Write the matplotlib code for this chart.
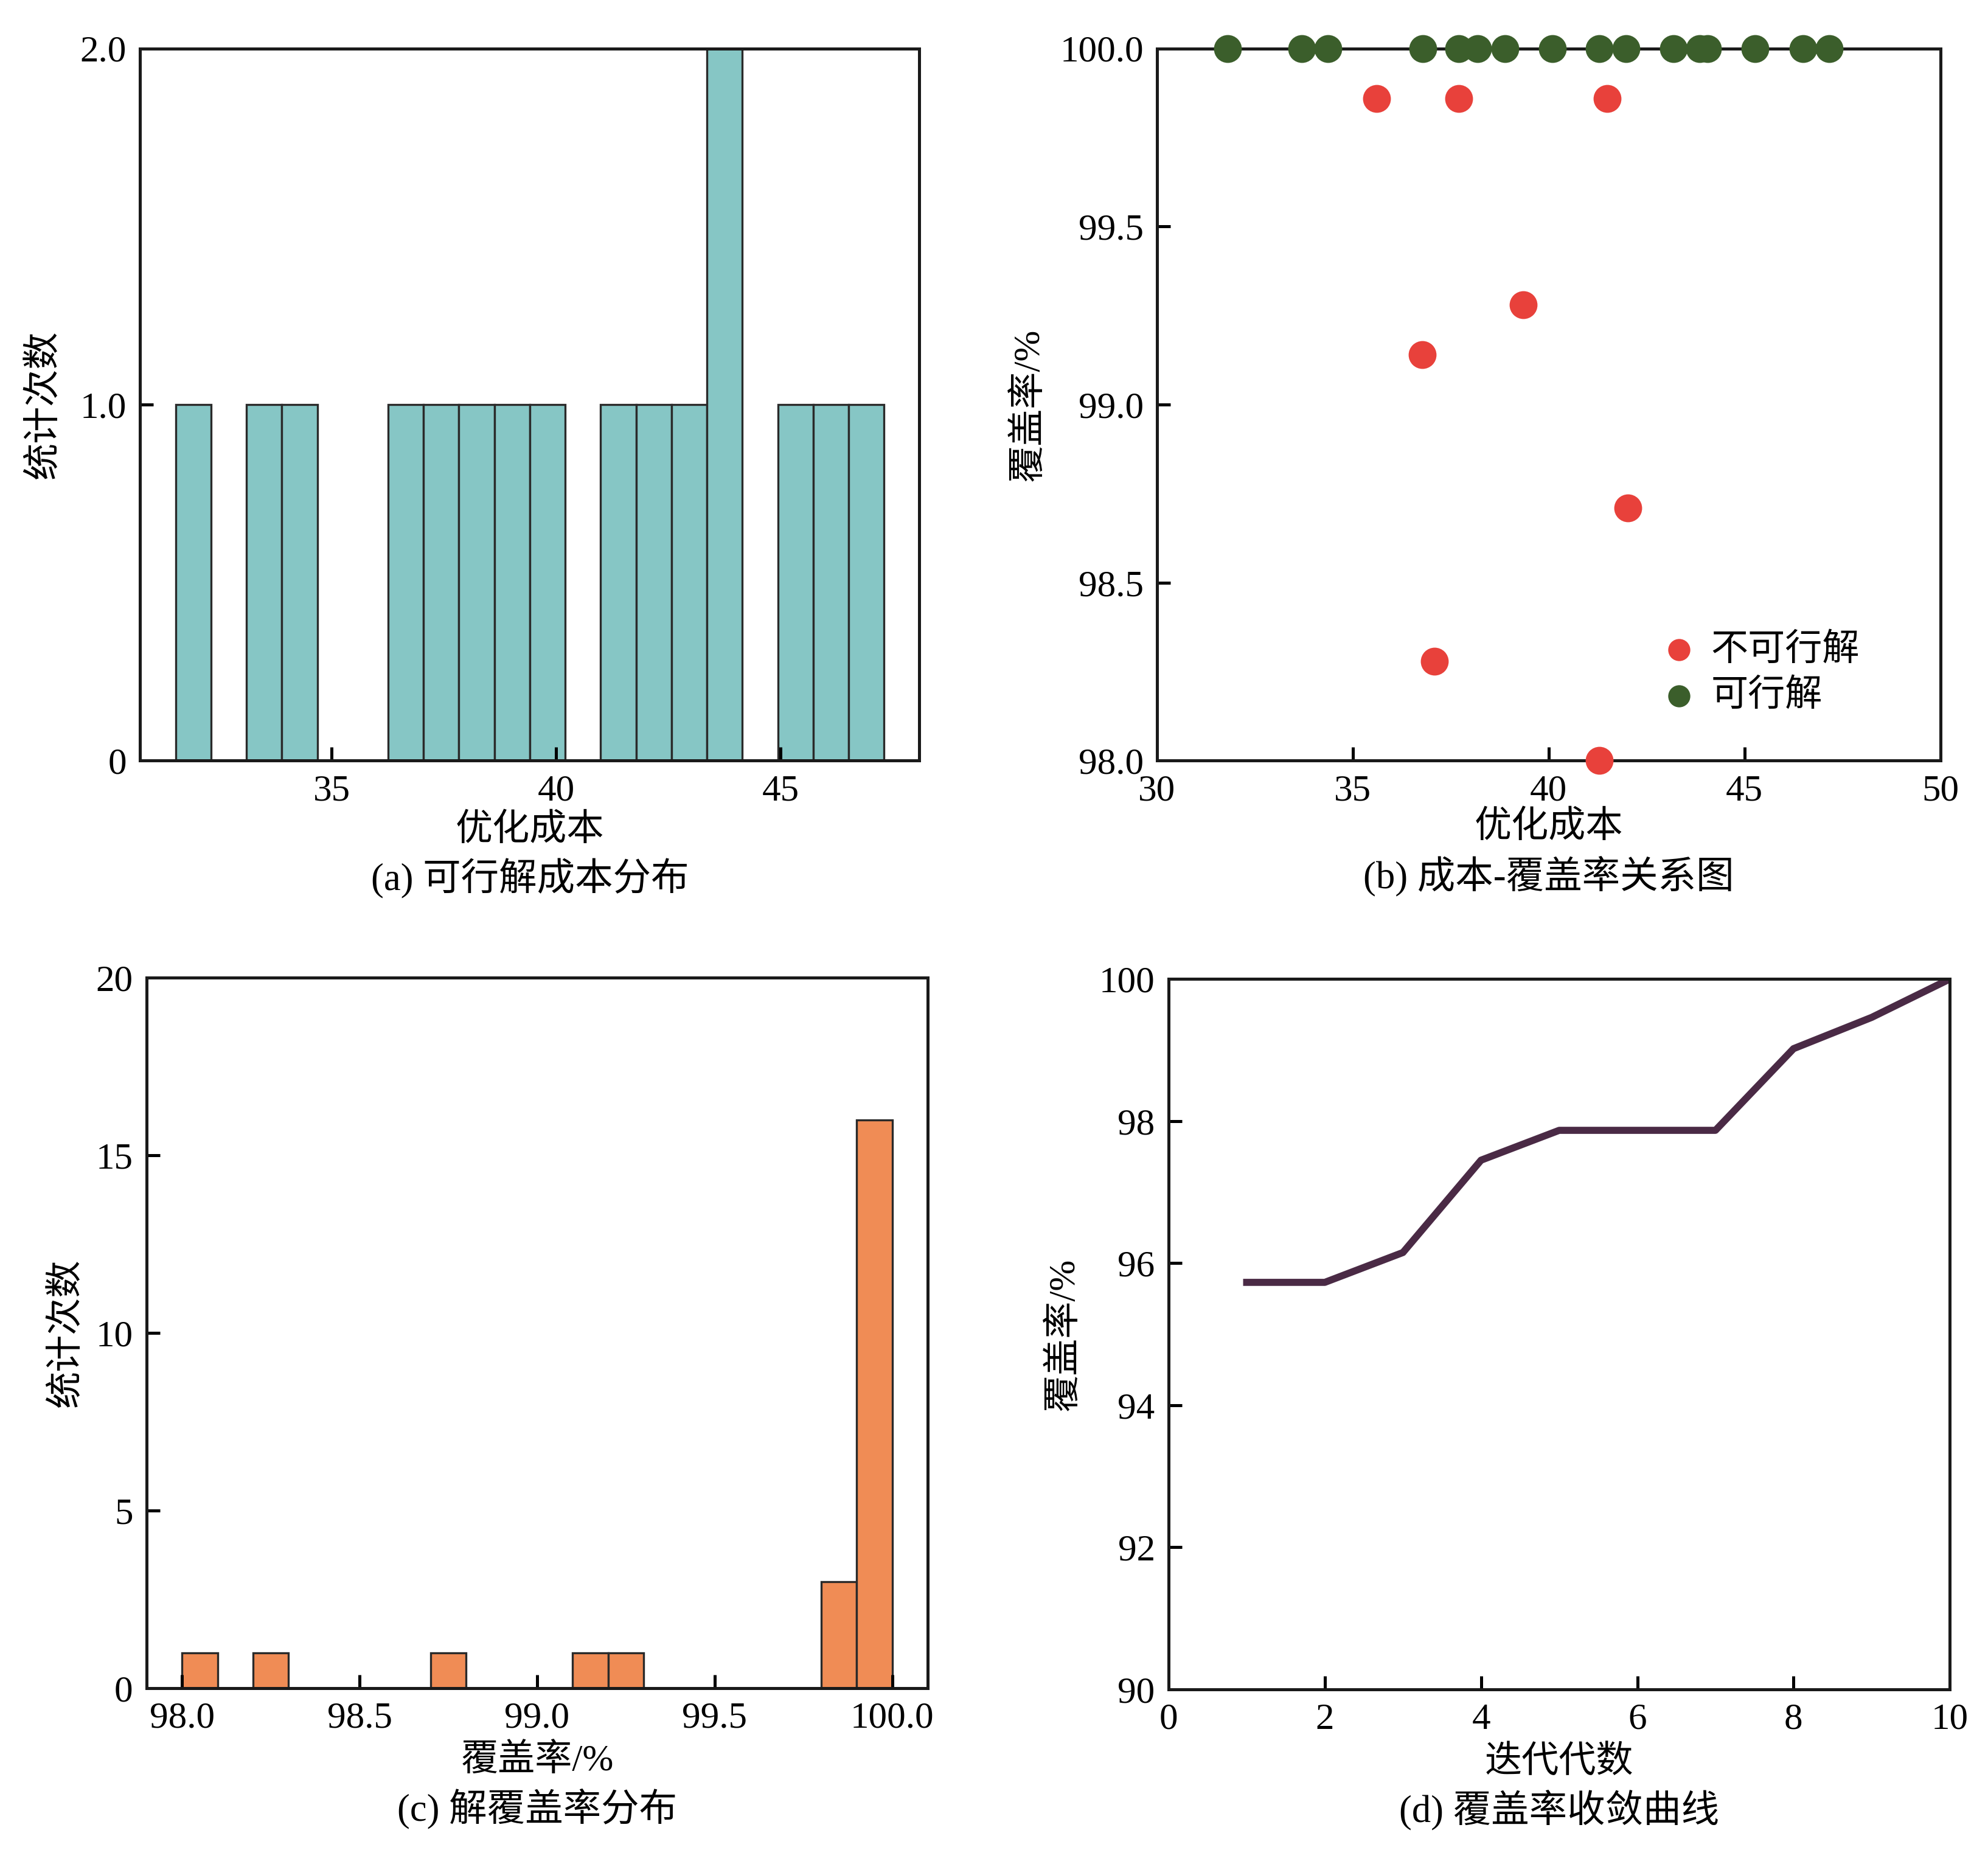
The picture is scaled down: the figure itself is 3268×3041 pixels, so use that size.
import matplotlib
matplotlib.use("Agg")
import matplotlib.pyplot as plt
import numpy as np

plt.rcParams["font.family"] = ["Liberation Serif", "Noto Sans CJK SC"]

# feasible solutions: cost, coverage 100 %
cost_feasible = [31.80, 33.70, 34.37, 36.79, 37.70, 38.19, 38.88, 40.09,
                 41.29, 41.98, 43.19, 43.85, 44.05, 45.27, 46.49, 47.17]
cov_feasible = [100.0] * 16
# infeasible solutions
cost_infeasible = [35.61, 37.70, 41.49, 39.35, 36.78, 42.02, 37.08, 41.30]
cov_infeasible = [99.86, 99.86, 99.86, 99.28, 99.14, 98.71, 98.28, 98.00]

# convergence curve
generations = [1, 2, 3, 4, 5, 6, 7, 8, 9, 10]
best_cov = [95.73, 95.73, 96.15, 97.45, 97.87, 97.87, 97.87, 99.02, 99.46, 100.0]

cost_hist_range = (31.52, 47.30)
cov_hist_range = (98.0, 100.0)

c_teal = "#86c6c5"
c_orange = "#f08c55"
c_red = "#e8413b"
c_green = "#3b5e2b"
c_line = "#4a2a45"
c_edge = "#2a2a2a"

tick_fs = 22
lab_fs = 22
cap_fs = 22.5

fig = plt.figure(figsize=(16.34, 15.205), dpi=200)
ax_a = fig.add_axes([0.0705, 0.5888, 0.392, 0.385])
ax_b = fig.add_axes([0.582, 0.5888, 0.394, 0.385])
ax_c = fig.add_axes([0.0737, 0.0875, 0.393, 0.384])
ax_d = fig.add_axes([0.5878, 0.0868, 0.393, 0.384])

for ax in (ax_a, ax_b, ax_c, ax_d):
    for sp in ax.spines.values():
        sp.set_linewidth(1.8)
        sp.set_color("#1a1a1a")
    ax.tick_params(direction="in", length=8, width=1.8, labelsize=tick_fs,
                   top=False, right=False, pad=8)

# (a) cost histogram
ax_a.hist(cost_feasible, bins=20, range=cost_hist_range, color=c_teal,
          edgecolor=c_edge, linewidth=1.2)
ax_a.set_ylim(0, 2)
ax_a.set_yticks([0, 1, 2])
ax_a.set_yticklabels(["0", "1.0", "2.0"])
ax_a.set_xticks([35, 40, 45])
ax_a.set_xlabel("优化成本", fontsize=lab_fs)
ax_a.set_ylabel("统计次数", fontsize=lab_fs)
ax_a.yaxis.set_label_coords(-0.101, 0.5)
ax_a.xaxis.set_label_coords(0.5, -0.074)
ax_a.text(0.5, -0.166, "(a) 可行解成本分布", transform=ax_a.transAxes,
          ha="center", va="center", fontsize=cap_fs)

# (b) cost vs coverage
ax_b.scatter(cost_infeasible, cov_infeasible, s=240, color=c_red,
             clip_on=False, zorder=3, label="不可行解")
ax_b.scatter(cost_feasible, cov_feasible, s=240, color=c_green,
             clip_on=False, zorder=3, label="可行解")
ax_b.set_xlim(30, 50)
ax_b.set_ylim(98.0, 100.0)
ax_b.set_xticks([30, 35, 40, 45, 50])
ax_b.set_yticks([98.0, 98.5, 99.0, 99.5, 100.0])
ax_b.yaxis.set_major_formatter(matplotlib.ticker.FormatStrFormatter("%.1f"))
ax_b.set_xlabel("优化成本", fontsize=lab_fs)
ax_b.set_ylabel("覆盖率/%", fontsize=lab_fs)
ax_b.yaxis.set_label_coords(-0.141, 0.5)
ax_b.xaxis.set_label_coords(0.5, -0.07)
ax_b.text(0.5, -0.162, "(b) 成本-覆盖率关系图", transform=ax_b.transAxes,
          ha="center", va="center", fontsize=cap_fs)
ax_b.legend(loc="lower right", bbox_to_anchor=(0.93, 0.03), frameon=False,
            fontsize=22, markerscale=0.78, handlelength=1.0,
            handletextpad=0.35, labelspacing=0.3, borderpad=0.2)

# (c) coverage histogram
all_cov = cov_feasible + cov_infeasible
ax_c.hist(all_cov, bins=20, range=cov_hist_range, color=c_orange,
          edgecolor=c_edge, linewidth=1.2)
ax_c.set_ylim(0, 20)
ax_c.set_yticks([0, 5, 10, 15, 20])
ax_c.set_xticks([98.0, 98.5, 99.0, 99.5, 100.0])
ax_c.xaxis.set_major_formatter(matplotlib.ticker.FormatStrFormatter("%.1f"))
ax_c.set_xlabel("覆盖率/%", fontsize=lab_fs)
ax_c.set_ylabel("统计次数", fontsize=lab_fs)
ax_c.yaxis.set_label_coords(-0.080, 0.5)
ax_c.xaxis.set_label_coords(0.5, -0.079)
ax_c.text(0.5, -0.17, "(c) 解覆盖率分布", transform=ax_c.transAxes,
          ha="center", va="center", fontsize=cap_fs)

# (d) convergence curve
ax_d.plot(generations, best_cov, color=c_line, linewidth=4.2)
ax_d.set_xlim(0, 10)
ax_d.set_ylim(90, 100)
ax_d.set_xticks([0, 2, 4, 6, 8, 10])
ax_d.set_yticks([90, 92, 94, 96, 98, 100])
ax_d.set_xlabel("迭代代数", fontsize=lab_fs)
ax_d.set_ylabel("覆盖率/%", fontsize=lab_fs)
ax_d.yaxis.set_label_coords(-0.111, 0.5)
ax_d.xaxis.set_label_coords(0.5, -0.079)
ax_d.text(0.5, -0.17, "(d) 覆盖率收敛曲线", transform=ax_d.transAxes,
          ha="center", va="center", fontsize=cap_fs)

fig.savefig("out.png", dpi=200)
